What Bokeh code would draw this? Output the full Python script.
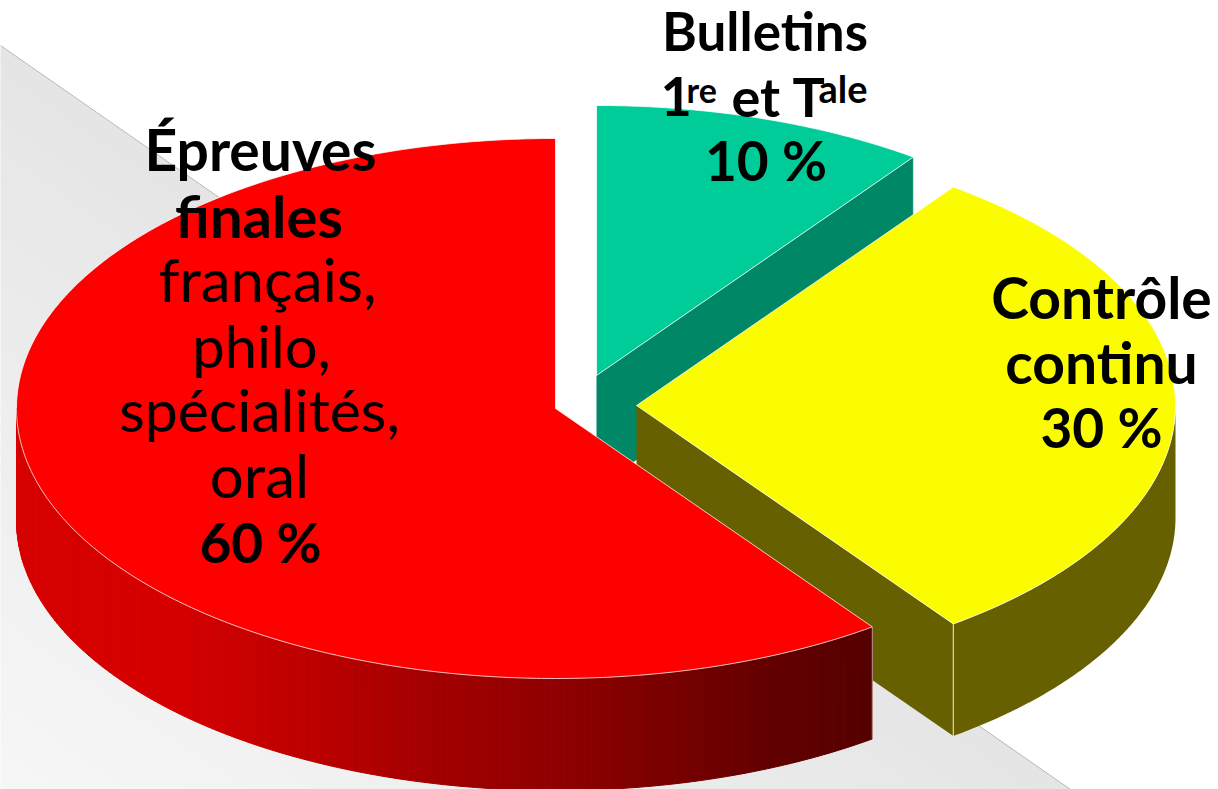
import math
from bokeh.plotting import figure
from bokeh.models import Range1d
from bokeh.core.properties import value
from bokeh.embed import file_html
from bokeh.resources import INLINE

# --- data ---
categories = ["Bulletins 1re et Tale", "Contrôle continu", "Épreuves finales"]
shares = [10, 30, 60]
top_colors = ["#00CC99", "#FCFC00", "#FF0000"]
side_colors = ["#008866", "#666000", None]
label_bold = ["Bulletins", "10 %", "Contrôle", "continu", "30 %", "Épreuves", "finales", "60 %"]
label_regular = ["français,", "philo,", "spécialités,", "oral"]

# --- layout / style ---
W, H = 1218, 789
OX, OY = 0, 0
RX, RY, DEPTH = 539, 270, 112
centers = [(596, 375), (636, 405), (555, 408)]
FONT = "Lato"
BASELINE_SHIFT = 0.385

p = figure(width=W, height=H, x_range=Range1d(OX, OX + W), y_range=Range1d(OY + H, OY),
           output_backend="svg", toolbar_location=None, min_border=0, outline_line_color=None)
p.axis.visible = False
p.grid.visible = False
p.background_fill_color = "white"


def lerp_hex(stops, t):
    for (a, ca), (b, cb) in zip(stops, stops[1:]):
        if t <= b:
            f = max(0, (t - a) / (b - a))
            return tuple(int(round(u + (v - u) * f)) for u, v in zip(ca, cb))
    return stops[-1][1]


# backdrop: diagonal band fading from grey to white
x0, y0, x1, y1 = 0, 45, 1070, 789
L = math.hypot(x1 - x0, y1 - y0)
ux, uy = (x1 - x0) / L, (y1 - y0) / L
nx, ny = -uy, ux
bg_stops = [(0, (229, 229, 229)), (300, (238, 238, 238)), (620, (247, 247, 247)), (900, (255, 255, 255))]
xs, ys, cs = [], [], []
step = 12
for d in range(0, 900, step):
    a = (x0 - 1000 * ux + nx * d, y0 - 1000 * uy + ny * d)
    b = (x0 + 2500 * ux + nx * d, y0 + 2500 * uy + ny * d)
    c = (b[0] + nx * (step + 1), b[1] + ny * (step + 1))
    e = (a[0] + nx * (step + 1), a[1] + ny * (step + 1))
    xs.append([a[0], b[0], c[0], e[0]])
    ys.append([a[1], b[1], c[1], e[1]])
    cs.append("#%02x%02x%02x" % lerp_hex(bg_stops, d))
p.patches(xs, ys, fill_color=cs, line_color=None)
p.line([x0, x1], [y0, y1], line_color="#b8b8b8", line_width=1)


def pt(c, deg, dz=0):
    r = math.radians(deg)
    return c[0] + RX * math.sin(r), c[1] - RY * math.cos(r) + dz


def arc(c, a, b, dz=0, n=None):
    n = n or max(2, int(abs(b - a) * 2))
    return [pt(c, a + (b - a) * i / n, dz) for i in range(n + 1)]


total = sum(shares)
spans, acc = [], 0
for s in shares:
    spans.append((acc, acc + 360 * s / total))
    acc += 360 * s / total

red_stops = [(16, (214, 0, 0)), (180, (212, 0, 0)), (300, (190, 0, 0)), (420, (165, 0, 0)),
             (600, (135, 0, 0)), (760, (100, 0, 0)), (873, (85, 0, 0))]

WHITE = "#ffffff"
for i, (c, (a, b)) in enumerate(zip(centers, spans)):
    if side_colors[i]:
        e = pt(c, b)
        poly = [c, e, (e[0], e[1] + DEPTH), (c[0], c[1] + DEPTH)]
        p.patch([q[0] for q in poly], [q[1] for q in poly], fill_color=side_colors[i], line_color=None)
        if i == 0:
            p.line([e[0], e[0]], [e[1], e[1] + DEPTH], line_color=WHITE, line_alpha=0.4, line_width=1)
        if i == 1:
            wall_top = arc(c, 90, b)
            wall = wall_top + [(q[0], q[1] + DEPTH) for q in reversed(wall_top)]
            p.patch([q[0] for q in wall], [q[1] for q in wall], fill_color=side_colors[i], line_color=None)
            p.line([e[0], e[0]], [e[1], e[1] + DEPTH], line_color=WHITE, line_alpha=0.7, line_width=1.2)
    else:
        sx, sy, sc = [], [], []
        n = 180
        for k in range(n):
            t0 = a + (270 - a) * k / n
            t1 = min(a + (270 - a) * (k + 1) / n, 270)
            q0, q1 = pt(c, t0), pt(c, t1)
            sx.append([q0[0], q1[0], q1[0], q0[0]])
            sy.append([q0[1], q1[1], q1[1] + DEPTH, q0[1] + DEPTH])
            sc.append("#%02x%02x%02x" % lerp_hex(red_stops, (q0[0] + q1[0]) / 2))
        p.patches(sx, sy, fill_color=sc, line_color=sc, line_width=1)
        e = pt(c, a)
        p.line([e[0], e[0]], [e[1], e[1] + DEPTH], line_color=WHITE, line_alpha=0.6, line_width=1)
    rim = arc(c, a, b)
    poly = [c] + rim
    p.patch([q[0] for q in poly], [q[1] for q in poly], fill_color=top_colors[i], line_color=None)
    p.line([q[0] for q in poly + [c]], [q[1] for q in poly + [c]], line_color=WHITE, line_alpha=0.75, line_width=1)


def txt(x, y, s, size, style="normal", align="center"):
    p.text([x], [y - BASELINE_SHIFT * size], text=[s], text_font=value(FONT), text_font_size=f"{size}px",
           text_font_style=style, text_align=align, text_baseline="alphabetic", text_color="black")


# labels
txt(764.5, 50, label_bold[0], 53, "bold")
txt(660, 117, "1", 54, "bold", "left")
txt(686, 102, "re", 34, "bold", "left")
txt(731, 117, "et", 54, "bold", "left")
txt(792, 117, "T", 54, "bold", "left")
txt(818, 102, "ale", 38, "bold", "left")
txt(765.5, 181, label_bold[1], 55, "bold")
txt(1101, 318, label_bold[2], 57, "bold")
txt(1101, 383, label_bold[3], 57, "bold")
txt(1101, 448, label_bold[4], 55, "bold")
txt(260, 170, label_bold[5], 57, "bold")
txt(258.5, 237, label_bold[6], 58, "bold")
txt(267, 302, label_regular[0], 60)
txt(261, 367, label_regular[1], 58)
txt(259, 432, label_regular[2], 59)
txt(259, 498, label_regular[3], 60)
txt(260, 563, label_bold[7], 55, "bold")

open("out.html", "w").write(file_html(p, INLINE))
